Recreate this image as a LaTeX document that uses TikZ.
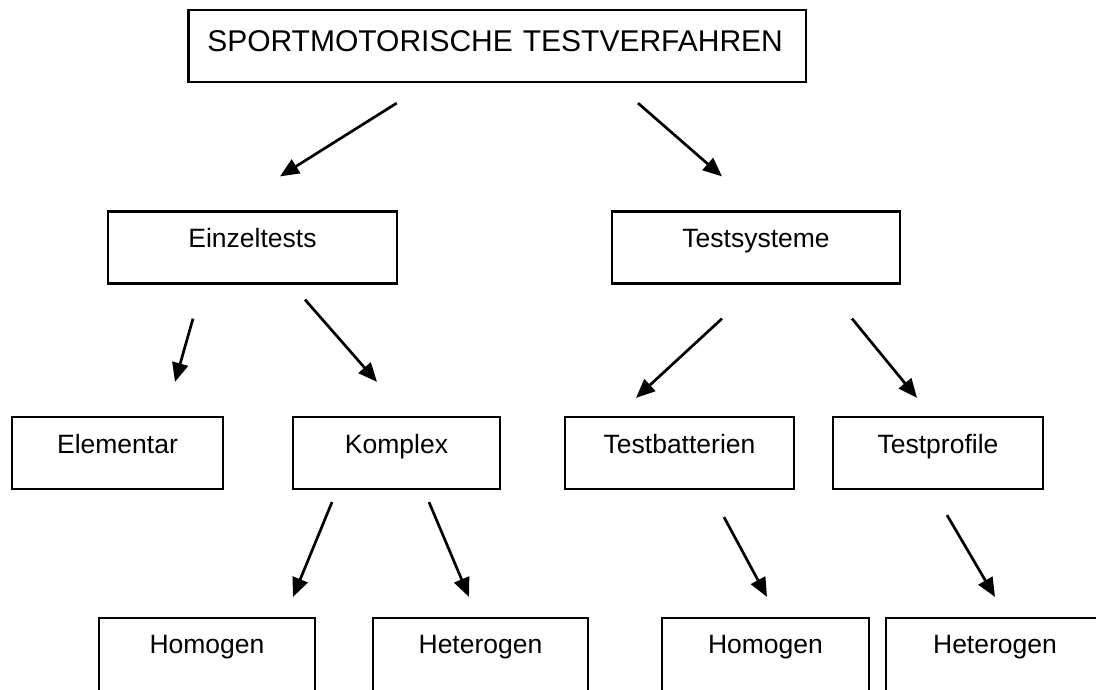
\documentclass[tikz,border=0pt]{standalone}
\usepackage{fontspec}
\setmainfont{Liberation Sans}
\usepackage{tikz}
\usetikzlibrary{arrows.meta}

\begin{document}
\begin{tikzpicture}[x=1pt, y=-1pt,
        box/.style={rectangle, draw=black, line width=2.2pt, minimum height=72pt, inner sep=2pt, text height=20pt, text depth=20pt, font=\fontsize{26.5}{30}\selectfont},
        title/.style={box, minimum width=617.5pt, text width=580pt, align=left, text height=22pt, text depth=12pt, font=\fontsize{30}{34}\selectfont},
        leaf/.style={box, minimum height=80pt, text depth=30pt},
        arrow/.style={-{Triangle[length=19pt, width=16pt]}, line width=2.7pt}]

        \clip (0,0) rectangle (1096,689);

        % Nodes
        \node[title] (stv) at (497.25,46) {SPORTMOTORISCHE TESTVERFAHREN};

        \node[box, minimum width=289pt] (einzel) at (252.5,247.5) {Einzeltests};
        \node[box, minimum width=288pt] (system) at (756,247.5) {Testsysteme};

        \node[box, minimum width=211pt] (elem) at (117.5,453) {Elementar};
        \node[box, minimum width=207pt] (komplex) at (396.5,453) {Komplex};
        \node[box, minimum width=229pt] (batt) at (679.5,453) {Testbatterien};
        \node[box, minimum width=210pt] (profil) at (938,453) {Testprofile};

        \node[leaf, minimum width=216pt] (homoA) at (207,658) {Homogen};
        \node[leaf, minimum width=215pt] (heteroA) at (480.5,658) {Heterogen};
        \node[leaf, minimum width=207pt] (homoB) at (765.5,658) {Homogen};
        \node[leaf, minimum width=218pt] (heteroB) at (995,658) {Heterogen};

        % Connections
        \draw[arrow] ([shift={(-100.5,20)}]stv.south) -- ([shift={(27.5,-34)}]einzel.north);
        \draw[arrow] ([shift={(140.75,20)}]stv.south) -- ([shift={(-34,-34)}]system.north);
        \draw[arrow] ([shift={(-59.5,34)}]einzel.south) -- ([shift={(57.5,-34)}]elem.north);
        \draw[arrow] ([shift={(52.5,15)}]einzel.south) -- ([shift={(-19.5,-34)}]komplex.north);
        \draw[arrow] ([shift={(-34,34)}]system.south) -- ([shift={(-43.5,-18)}]batt.north);
        \draw[arrow] ([shift={(96,34)}]system.south) -- ([shift={(-21,-18)}]profil.north);
        \draw[arrow] ([shift={(-64.5,12)}]komplex.south) -- ([shift={(86,-20)}]homoA.north);
        \draw[arrow] ([shift={(32.5,12)}]komplex.south) -- ([shift={(-11.5,-20)}]heteroA.north);
        \draw[arrow] ([shift={(44.5,27)}]batt.south) -- ([shift={(1.5,-20)}]homoB.north);
        \draw[arrow] ([shift={(9,25)}]profil.south) -- ([shift={(0,-20)}]heteroB.north);

\end{tikzpicture}
\end{document}
